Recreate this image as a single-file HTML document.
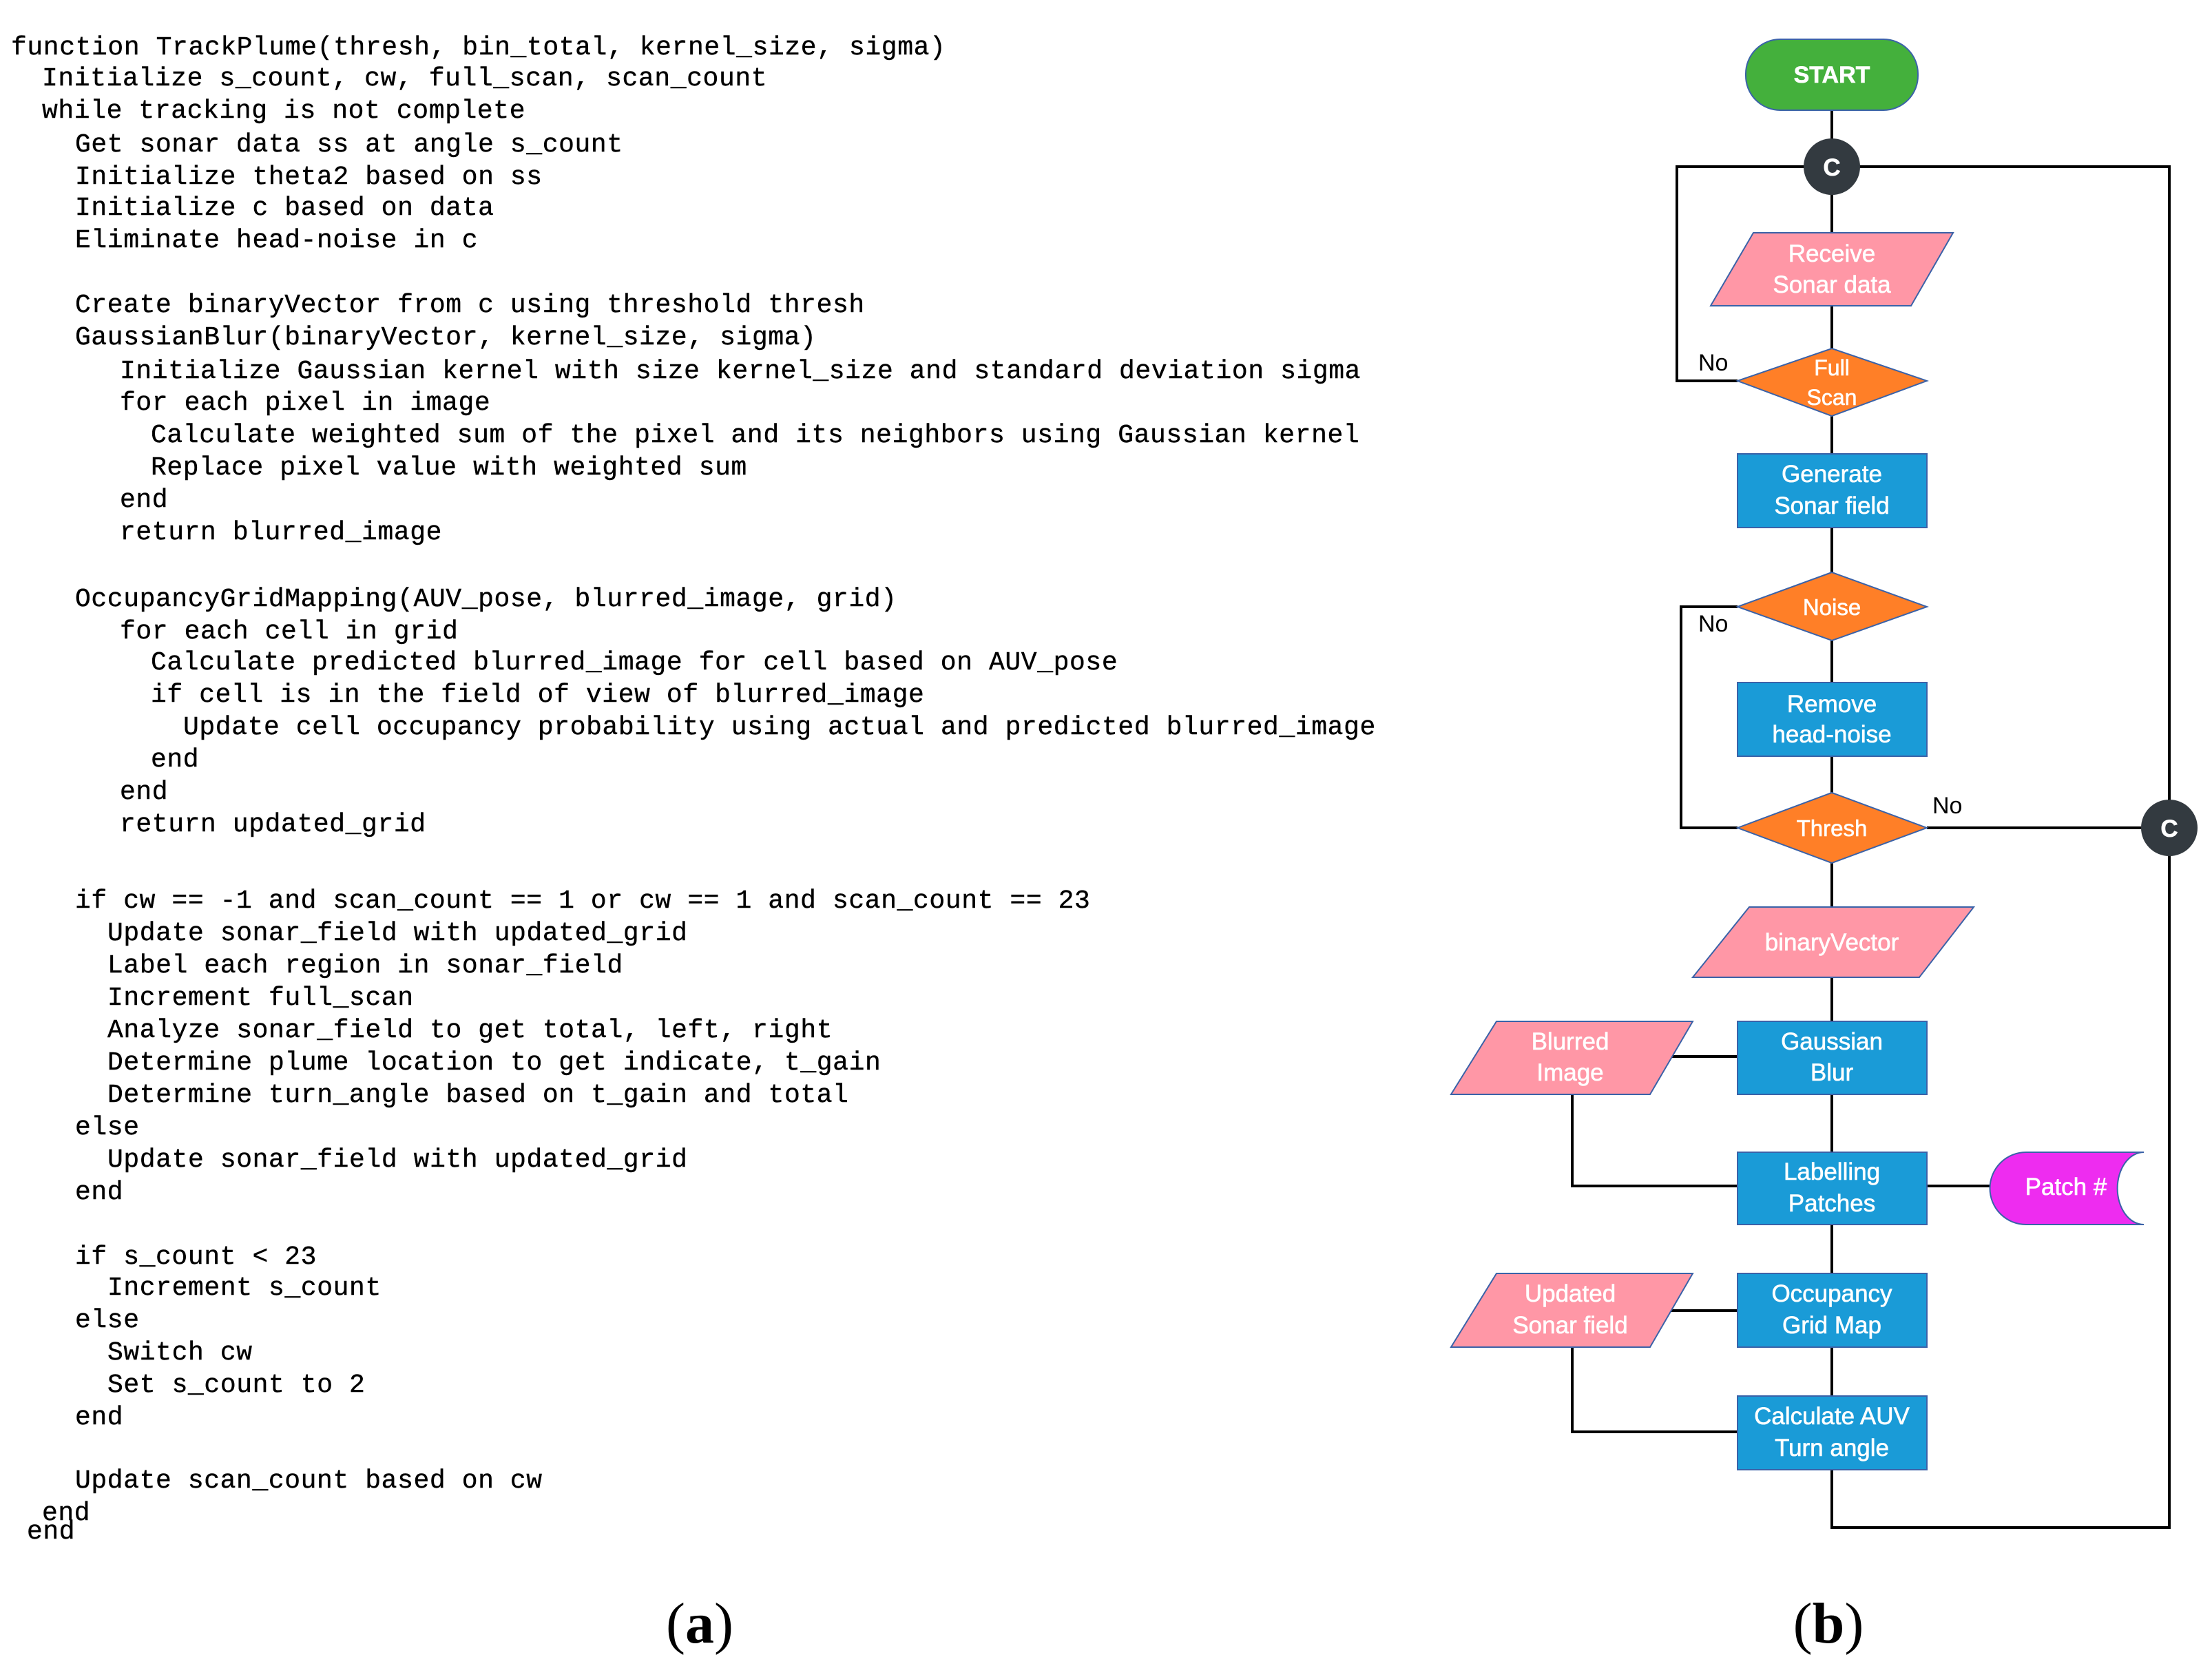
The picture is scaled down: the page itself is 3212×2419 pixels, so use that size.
<!DOCTYPE html>
<html><head><meta charset="utf-8"><style>
html,body{margin:0;padding:0;background:#fff;}
svg{display:block;}
.c{font-family:"Liberation Mono",monospace;font-size:38px;fill:#000;letter-spacing:0.6px;stroke:#000;stroke-width:0.4px;}
.w{font-family:"Liberation Sans",sans-serif;font-size:35px;fill:#fff;text-anchor:middle;stroke:#fff;stroke-width:0.6px;}
.n{font-family:"Liberation Sans",sans-serif;font-size:34px;fill:#000;}
.l{font-family:"Liberation Serif",serif;font-size:84px;fill:#000;text-anchor:middle;}
</style></head><body>
<svg width="3212" height="2419" viewBox="0 0 3212 2419" xmlns="http://www.w3.org/2000/svg">
<rect width="3212" height="2419" fill="#fff"/>
<g class="c">
<text x="16" y="79">function TrackPlume(thresh, bin_total, kernel_size, sigma)</text>
<text x="61" y="124">Initialize s_count, cw, full_scan, scan_count</text>
<text x="61" y="171">while tracking is not complete</text>
<text x="109" y="220">Get sonar data ss at angle s_count</text>
<text x="109" y="267">Initialize theta2 based on ss</text>
<text x="109" y="312">Initialize c based on data</text>
<text x="109" y="359">Eliminate head-noise in c</text>
<text x="109" y="453">Create binaryVector from c using threshold thresh</text>
<text x="109" y="500">GaussianBlur(binaryVector, kernel_size, sigma)</text>
<text x="174" y="549">Initialize Gaussian kernel with size kernel_size and standard deviation sigma</text>
<text x="174" y="595">for each pixel in image</text>
<text x="219" y="642">Calculate weighted sum of the pixel and its neighbors using Gaussian kernel</text>
<text x="219" y="689">Replace pixel value with weighted sum</text>
<text x="174" y="736">end</text>
<text x="174" y="783">return blurred_image</text>
<text x="109" y="880">OccupancyGridMapping(AUV_pose, blurred_image, grid)</text>
<text x="174" y="927">for each cell in grid</text>
<text x="219" y="972">Calculate predicted blurred_image for cell based on AUV_pose</text>
<text x="219" y="1019">if cell is in the field of view of blurred_image</text>
<text x="266" y="1066">Update cell occupancy probability using actual and predicted blurred_image</text>
<text x="219" y="1113">end</text>
<text x="174" y="1160">end</text>
<text x="174" y="1207">return updated_grid</text>
<text x="109" y="1318">if cw == -1 and scan_count == 1 or cw == 1 and scan_count == 23</text>
<text x="156" y="1365">Update sonar_field with updated_grid</text>
<text x="156" y="1412">Label each region in sonar_field</text>
<text x="156" y="1459">Increment full_scan</text>
<text x="156" y="1506">Analyze sonar_field to get total, left, right</text>
<text x="156" y="1553">Determine plume location to get indicate, t_gain</text>
<text x="156" y="1600">Determine turn_angle based on t_gain and total</text>
<text x="109" y="1647">else</text>
<text x="156" y="1694">Update sonar_field with updated_grid</text>
<text x="109" y="1741">end</text>
<text x="109" y="1835">if s_count &lt; 23</text>
<text x="156" y="1880">Increment s_count</text>
<text x="109" y="1927">else</text>
<text x="156" y="1974">Switch cw</text>
<text x="156" y="2021">Set s_count to 2</text>
<text x="109" y="2068">end</text>
<text x="109" y="2160">Update scan_count based on cw</text>
<text x="61" y="2207">end</text>
<text x="39" y="2234">end</text>
</g>
<text class="l" x="1016" y="2385">(<tspan font-weight="bold">a</tspan>)</text>
<text class="l" x="2655" y="2385">(<tspan font-weight="bold">b</tspan>)</text>

<g stroke="#000" stroke-width="4" fill="none">
<line x1="2660" y1="160" x2="2660" y2="2134"/>
<polyline points="2660,242 2435,242 2435,553 2523,553"/>
<polyline points="2660,242 3150,242 3150,2218 2660,2218 2660,2134"/>
<polyline points="2523,881 2441,881 2441,1202 2523,1202"/>
<line x1="2798" y1="1202" x2="3150" y2="1202"/>
<line x1="2420" y1="1534" x2="2523" y2="1534"/>
<polyline points="2283,1589 2283,1722 2523,1722"/>
<line x1="2798" y1="1722" x2="2890" y2="1722"/>
<line x1="2420" y1="1903" x2="2523" y2="1903"/>
<polyline points="2283,1956 2283,2079 2523,2079"/>
</g>

<g stroke="#3a62a8" stroke-width="2">
<rect x="2535" y="57" width="250" height="103" rx="50" fill="#44b03c"/>
<polygon points="2546,338 2836,338 2775,444 2484,444" fill="#ff97a6"/>
<polygon points="2523,553 2660,506 2798,553 2660,604" fill="#ff7f27"/>
<rect x="2523" y="659" width="275" height="107" fill="#1a9bd7"/>
<polygon points="2523,881 2660,831 2798,881 2660,930" fill="#ff7f27"/>
<rect x="2523" y="991" width="275" height="107" fill="#1a9bd7"/>
<polygon points="2523,1202 2660,1151 2798,1202 2660,1253" fill="#ff7f27"/>
<polygon points="2540,1317 2866,1317 2787,1419 2458,1419" fill="#ff97a6"/>
<rect x="2523" y="1483" width="275" height="106" fill="#1a9bd7"/>
<polygon points="2173,1483 2458,1483 2396,1589 2107,1589" fill="#ff97a6"/>
<rect x="2523" y="1673" width="275" height="105" fill="#1a9bd7"/>
<path d="M2942,1673 H3113 A38,52 0 0 0 3113,1778 H2942 A52,52 0 0 1 2942,1673 Z" fill="#ee2cf0"/>
<rect x="2523" y="1849" width="275" height="107" fill="#1a9bd7"/>
<polygon points="2173,1849 2458,1849 2396,1956 2107,1956" fill="#ff97a6"/>
<rect x="2523" y="2027" width="275" height="107" fill="#1a9bd7"/>
</g>
<circle cx="2660" cy="242" r="41" fill="#333a40"/>
<circle cx="3150" cy="1202" r="41" fill="#333a40"/>

<g class="w">
<text x="2660" y="120" font-weight="bold" font-size="34">START</text>
<text x="2660" y="255" font-weight="bold">C</text>
<text x="3150" y="1215" font-weight="bold">C</text>
<text x="2660" y="380">Receive</text>
<text x="2660" y="425">Sonar data</text>
<text x="2660" y="545" font-size="32">Full</text>
<text x="2660" y="588" font-size="32">Scan</text>
<text x="2660" y="700">Generate</text>
<text x="2660" y="746">Sonar field</text>
<text x="2660" y="893" font-size="33">Noise</text>
<text x="2660" y="1034">Remove</text>
<text x="2660" y="1078">head-noise</text>
<text x="2660" y="1214" font-size="33">Thresh</text>
<text x="2660" y="1380">binaryVector</text>
<text x="2660" y="1524">Gaussian</text>
<text x="2660" y="1569">Blur</text>
<text x="2280" y="1524">Blurred</text>
<text x="2280" y="1569">Image</text>
<text x="2660" y="1713">Labelling</text>
<text x="2660" y="1759">Patches</text>
<text x="3000" y="1735">Patch #</text>
<text x="2660" y="1890">Occupancy</text>
<text x="2660" y="1936">Grid Map</text>
<text x="2280" y="1890">Updated</text>
<text x="2280" y="1936">Sonar field</text>
<text x="2660" y="2068">Calculate AUV</text>
<text x="2660" y="2114">Turn angle</text>
</g>
<g class="n">
<text x="2466" y="538">No</text>
<text x="2466" y="917">No</text>
<text x="2806" y="1181">No</text>
</g>
</svg>
</body></html>
